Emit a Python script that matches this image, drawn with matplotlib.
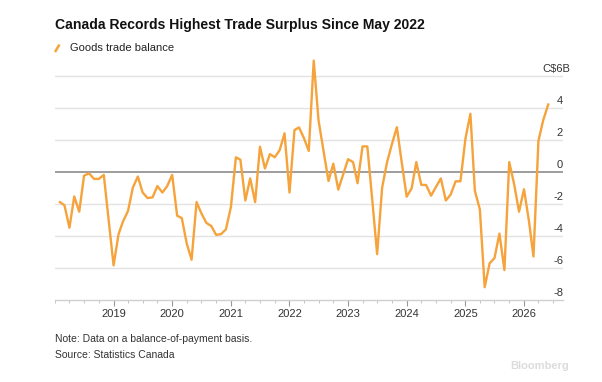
import numpy as np
import pandas as pd
import matplotlib
matplotlib.use('Agg')
import matplotlib.pyplot as plt
import matplotlib.dates as mdates
import matplotlib.transforms as mtrans
from matplotlib.lines import Line2D

plt.rcParams['font.family'] = ['Liberation Sans', 'DejaVu Sans']

# goods trade balance, C$ billions, monthly from Feb 2018
balance = [-1.9, -2.1, -3.5, -1.55, -2.5, -0.25, -0.1, -0.45, -0.45, -0.2,
           -3.0, -5.85, -3.9, -3.1, -2.45, -1.0, -0.3, -1.3, -1.65, -1.6,
           -0.9, -1.3, -0.9, -0.2, -2.75, -2.9, -4.5, -5.5, -1.9, -2.6,
           -3.2, -3.4, -3.95, -3.9, -3.6, -2.2, 0.9, 0.75, -1.8, -0.42,
           -1.9, 1.56, 0.2, 1.1, 0.9, 1.35, 2.4, -1.3, 2.6, 2.77,
           2.1, 1.3, 6.94, 3.2, 1.3, -0.58, 0.5, -1.12, -0.18, 0.78,
           0.6, -0.72, 1.58, 1.58, -1.8, -5.15, -1.0, 0.6, 1.72, 2.78,
           0.6, -1.56, -1.04, 0.6, -0.82, -0.83, -1.5, -0.96, -0.42, -1.8,
           -1.43, -0.6, -0.6, 2.05, 3.62, -1.2, -2.35, -7.22, -5.72, -5.4,
           -3.87, -6.15, 0.6, -0.8, -2.5, -1.1, -3.1, -5.3, 1.93, 3.23,
           4.2]
months = pd.date_range('2018-02-01', periods=len(balance), freq='MS')

yticks = [-8, -6, -4, -2, 0, 2, 4]
ylabels = ['-8', '-6', '-4', '-2', '0', '2', '4']
years = list(range(2019, 2027))

orange = '#f5a33a'
W, H = 602, 382

fig = plt.figure(figsize=(W / 100, H / 100), dpi=100)
ax = fig.add_axes([55 / W, 1 - 299.7 / H, (563 - 55) / W, (299.7 - 56.5) / H])

# gridlines
for v in yticks[1:] + [6]:
    if v == 0:
        ax.axhline(v, color='#8c8c8c', lw=1.2, zorder=2)
    else:
        ax.axhline(v, color='#e3e3e3', lw=1.0, zorder=1)

ax.plot(months, balance, color=orange, lw=1.7, zorder=3, solid_joinstyle='round')

ax.set_ylim(-8, 7.2)
ax.set_xlim(pd.Timestamp('2018-01-01'), pd.Timestamp('2026-09-01'))

for s in ['top', 'left', 'right']:
    ax.spines[s].set_visible(False)
ax.spines['bottom'].set_color('#d0d0d0')
ax.spines['bottom'].set_linewidth(1.0)
ax.set_yticks([])

ax.set_xticks([pd.Timestamp(f'{y}-01-01') for y in years])
ax.set_xticklabels([str(y) for y in years])
ax.xaxis.set_minor_locator(mdates.MonthLocator(bymonth=[1, 4, 7, 10]))
ax.tick_params(axis='x', which='major', length=4, width=0.8, color='#999999',
               labelsize=8, labelcolor='#333333', pad=2.5)
ax.tick_params(axis='x', which='minor', length=2.5, width=0.6, color='#bbbbbb')

# y labels sit above the gridlines at the right edge
trans = mtrans.blended_transform_factory(ax.transAxes, ax.transData)
for v, lab in zip(yticks, ylabels):
    ax.annotate(lab, xy=(1.0, v), xycoords=trans, xytext=(0, 1.5),
                textcoords='offset points', ha='right', va='bottom',
                fontsize=8, color='#333333')
ax.annotate('C$6B', xy=(1.0138, 6), xycoords=trans, xytext=(0, 1.5),
            textcoords='offset points', ha='right', va='bottom',
            fontsize=8, color='#333333')

fig.text(55 / W, 1 - 29 / H, 'Canada Records Highest Trade Surplus Since May 2022',
         fontsize=10.1, fontweight='bold', color='#111111', va='baseline')

fig.add_artist(Line2D([55 / W, 59.5 / W], [1 - 52 / H, 1 - 44.5 / H],
                      color=orange, lw=1.8, solid_capstyle='butt'))
fig.text(70 / W, 1 - 48 / H, 'Goods trade balance', fontsize=8,
         color='#222222', va='center')

fig.text(55 / W, 1 - 339 / H, 'Note: Data on a balance-of-payment basis.',
         fontsize=7.5, color='#333333', va='center')
fig.text(55 / W, 1 - 355 / H, 'Source: Statistics Canada',
         fontsize=7.5, color='#333333', va='center')
fig.text(569 / W, 1 - 366 / H, 'Bloomberg', fontsize=8, fontweight='bold',
         color='#dcdcdc', ha='right', va='center')

fig.savefig('out.png', dpi=100)
